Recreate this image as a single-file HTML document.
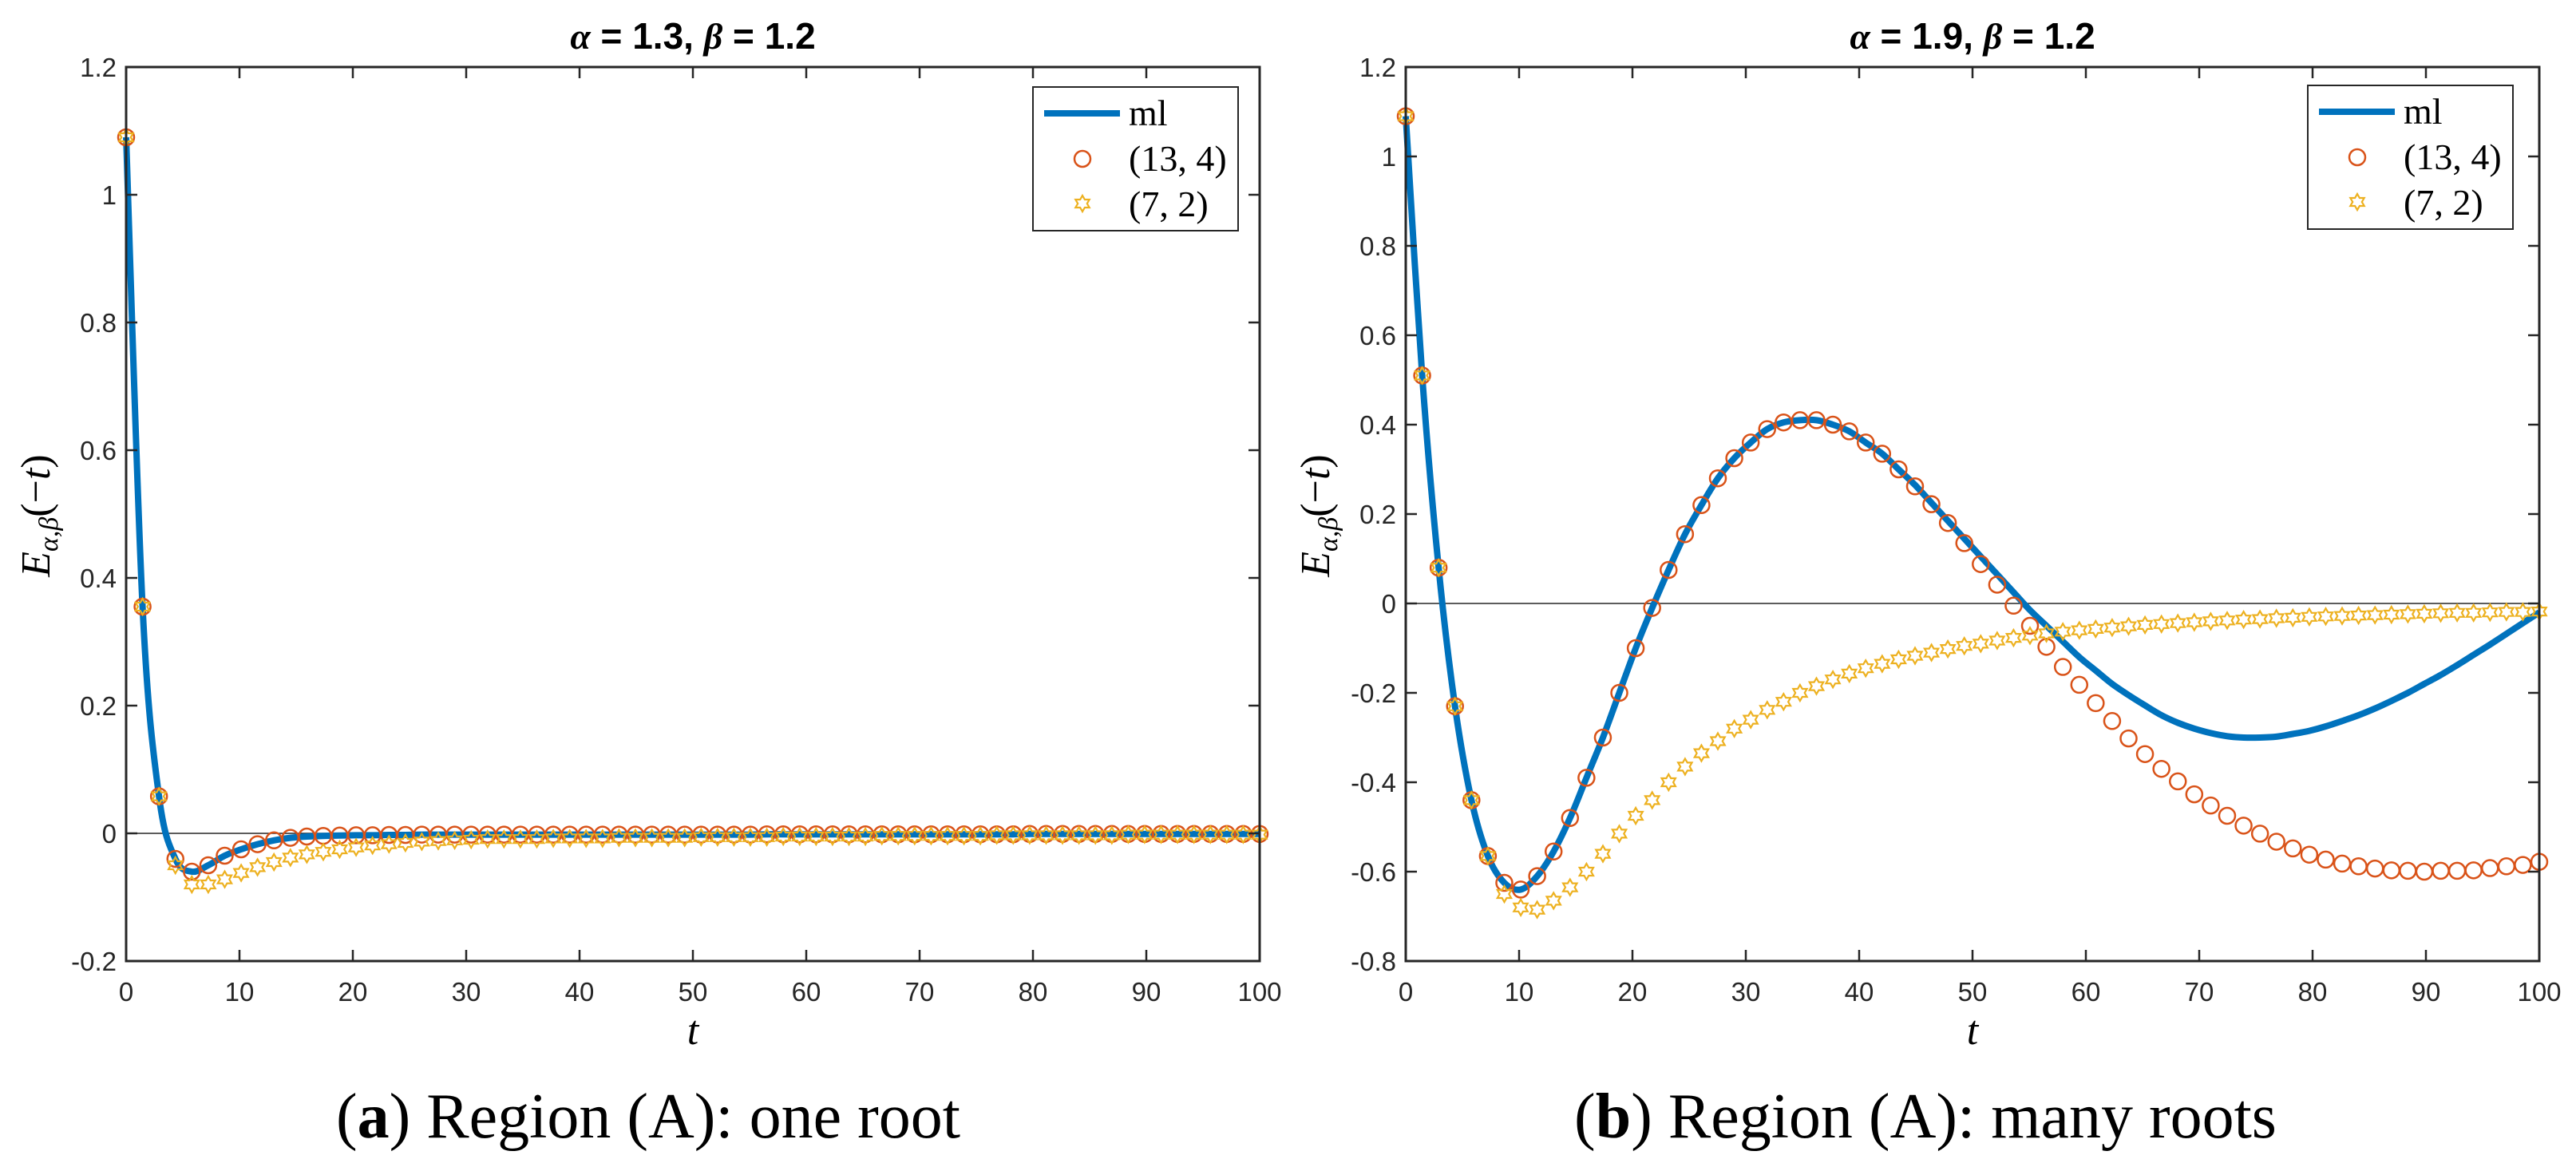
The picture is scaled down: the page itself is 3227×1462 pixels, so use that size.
<!DOCTYPE html>
<html><head><meta charset="utf-8"><style>
html,body{margin:0;padding:0;background:#fff;}
svg{display:block;}
</style></head><body>
<svg id="fig" width="3227" height="1462" viewBox="0 0 3227 1462" xmlns="http://www.w3.org/2000/svg"></svg>
<script>
// ---- data ----
const tTicks = [0,10,20,30,40,50,60,70,80,90,100];
const tickLabelsX = ["0","10","20","30","40","50","60","70","80","90","100"];
const leftYTicks = [-0.2,0,0.2,0.4,0.6,0.8,1,1.2];
const leftYLabels = ["-0.2","0","0.2","0.4","0.6","0.8","1","1.2"];
const rightYTicks = [-0.8,-0.6,-0.4,-0.2,0,0.2,0.4,0.6,0.8,1,1.2];
const rightYLabels = ["-0.8","-0.6","-0.4","-0.2","0","0.2","0.4","0.6","0.8","1","1.2"];
const sampleCount = 70;

const leftMl = [1.09,0.355,0.058,-0.040,-0.060,-0.050,-0.035,-0.025,-0.017,-0.011,-0.007,-0.005,-0.004,-0.0035,-0.003,-0.003,-0.0025,-0.0025,-0.002,
-0.002,-0.002,-0.002,-0.002,-0.002,-0.002,-0.002,-0.002,-0.002,-0.002,-0.002,-0.002,-0.002,-0.002,-0.002,-0.002,-0.002,-0.002,-0.002,-0.002,
-0.0015,-0.0015,-0.0015,-0.0015,-0.0015,-0.0015,-0.0015,-0.0015,-0.0015,-0.0015,-0.0015,-0.0015,-0.0015,-0.0015,-0.0015,-0.0015,
-0.001,-0.001,-0.001,-0.001,-0.001,-0.001,-0.001,-0.001,-0.001,-0.001,-0.001,-0.001,-0.001,-0.001,-0.001];
const leftCircles = leftMl.slice();
const leftStars = [1.09,0.355,0.058,-0.050,-0.080,-0.080,-0.072,-0.062,-0.053,-0.045,-0.038,-0.033,-0.029,-0.025,-0.022,-0.019,-0.017,-0.015,-0.013,-0.012,-0.011,-0.010,
-0.009,-0.009,-0.009,-0.009,-0.008,-0.008,-0.008,-0.008,-0.007,-0.007,-0.007,-0.007,-0.007,-0.006,-0.006,-0.006,-0.006,-0.006,
-0.005,-0.005,-0.005,-0.005,-0.005,-0.005,-0.004,-0.004,-0.004,-0.004,-0.004,-0.004,-0.004,
-0.003,-0.003,-0.003,-0.003,-0.003,-0.003,-0.003,-0.003,-0.002,-0.002,-0.002,-0.002,-0.002,-0.002,-0.002,-0.002,-0.002];

const rightMl = [1.09,0.51,0.08,-0.23,-0.44,-0.565,-0.625,-0.64,-0.61,-0.555,-0.48,-0.39,-0.30,-0.20,-0.10,-0.01,0.075,0.155,0.22,0.28,
0.325,0.36,0.39,0.405,0.41,0.41,0.40,0.385,0.36,0.335,0.30,0.265,0.225,0.185,0.145,0.105,0.065,0.025,-0.015,-0.05,
-0.085,-0.12,-0.15,-0.18,-0.205,-0.228,-0.25,-0.267,-0.28,-0.29,-0.297,-0.30,-0.30,-0.298,-0.292,-0.285,-0.275,-0.263,-0.25,-0.235,
-0.218,-0.20,-0.18,-0.16,-0.138,-0.115,-0.092,-0.068,-0.044,-0.02];
const rightCircles = [1.09,0.51,0.08,-0.23,-0.44,-0.565,-0.625,-0.64,-0.61,-0.555,-0.48,-0.39,-0.30,-0.20,-0.10,-0.01,0.075,0.155,0.22,0.28,
0.325,0.36,0.39,0.405,0.41,0.41,0.40,0.385,0.36,0.335,0.30,0.262,0.222,0.18,0.135,0.088,0.042,-0.005,-0.05,-0.097,
-0.142,-0.182,-0.223,-0.263,-0.302,-0.337,-0.37,-0.398,-0.427,-0.452,-0.475,-0.497,-0.515,-0.533,-0.548,-0.562,-0.573,-0.582,-0.588,-0.593,
-0.597,-0.598,-0.6,-0.598,-0.598,-0.597,-0.592,-0.588,-0.585,-0.578];
const rightStars = [1.09,0.51,0.08,-0.23,-0.44,-0.565,
-0.65,-0.68,-0.685,-0.665,-0.635,-0.60,-0.56,-0.515,-0.475,-0.44,-0.40,-0.365,-0.335,-0.308,-0.28,-0.26,-0.238,-0.22,-0.2,-0.185,-0.17,-0.157,-0.145,-0.135,-0.125,-0.117,-0.11,-0.102,-0.095,-0.09,-0.083,-0.077,-0.072,-0.067,-0.063,
-0.06,-0.057,-0.054,-0.051,-0.048,-0.046,-0.044,-0.042,-0.04,-0.038,-0.036,-0.035,-0.033,-0.032,-0.03,-0.029,-0.028,-0.027,-0.026,-0.025,-0.024,-0.023,-0.022,-0.021,-0.021,-0.02,-0.019,-0.019,-0.018];

// ---- drawing ----
const NS = "http://www.w3.org/2000/svg";
const svg = document.getElementById('fig');
function mk(tag, attrs, parent){
  const e = document.createElementNS(NS, tag);
  for (const k in attrs) e.setAttribute(k, attrs[k]);
  (parent||svg).appendChild(e);
  return e;
}
const BLUE="#0072BD", ORANGE="#D95319", YELLOW="#EDB120", AX="#262626";

function starPath(cx, cy, r){
  let d="";
  for(let i=0;i<12;i++){
    const a = -Math.PI/2 + i*Math.PI/6;
    const rr = (i%2===0)? r : r*0.58;
    d += (i===0?"M":"L") + (cx+rr*Math.cos(a)).toFixed(1)+","+(cy+rr*Math.sin(a)).toFixed(1);
  }
  return d+"Z";
}
function smoothPath(pts){
  let d = "M"+pts[0][0].toFixed(1)+","+pts[0][1].toFixed(1);
  for(let i=0;i<pts.length-1;i++){
    const p0=pts[Math.max(0,i-1)], p1=pts[i], p2=pts[i+1], p3=pts[Math.min(pts.length-1,i+2)];
    const c1x=p1[0]+(p2[0]-p0[0])/6, c1y=p1[1]+(p2[1]-p0[1])/6;
    const c2x=p2[0]-(p3[0]-p1[0])/6, c2y=p2[1]-(p3[1]-p1[1])/6;
    d+=" C"+c1x.toFixed(1)+","+c1y.toFixed(1)+" "+c2x.toFixed(1)+","+c2y.toFixed(1)+" "+p2[0].toFixed(1)+","+p2[1].toFixed(1);
  }
  return d;
}

function drawPlot(cfg){
  const g = mk('g', {});
  
  
  const L=cfg.left, R=cfg.left+1420, T=84, B=1204;
  const xs = v => L + (v-0)/(100-0)*(R-L);
  const ys = v => B - (v-cfg.ymin)/(cfg.ymax-cfg.ymin)*(B-T);
  const tOf = i => i*100/(sampleCount-1);

  const zl = mk('line',{x1:L,x2:R,y1:ys(0),y2:ys(0),stroke:AX,'stroke-width':1.5},g);
  
  

  const pts = cfg.ml.map((v,i)=>[xs(tOf(i)), ys(v)]);
  const ln = mk('path',{d:smoothPath(pts),fill:'none',stroke:BLUE,'stroke-width':8,'stroke-linejoin':'round'},g);
  
  

  cfg.circles.forEach((v,i)=>{
    const c = mk('circle',{cx:xs(tOf(i)),cy:ys(v),r:10,fill:'none',stroke:ORANGE,'stroke-width':2.5},g);
    
    
  });
  cfg.stars.forEach((v,i)=>{
    const s = mk('path',{d:starPath(xs(tOf(i)),ys(v),10),fill:'none',stroke:YELLOW,'stroke-width':2.2},g);
    
    
  });

  const box = mk('rect',{x:L,y:T,width:R-L,height:B-T,fill:'none',stroke:AX,'stroke-width':3},g);
  
  

  tTicks.forEach((v,i)=>{
    const x=xs(v);
    mk('line',{x1:x,x2:x,y1:B,y2:B-14,stroke:AX,'stroke-width':2.5},g);
    mk('line',{x1:x,x2:x,y1:T,y2:T+14,stroke:AX,'stroke-width':2.5},g);
    const tx = mk('text',{x:x,y:B+50,'text-anchor':'middle','font-family':'Liberation Sans, sans-serif','font-size':33,fill:AX},g);
    tx.textContent = tickLabelsX[i];
    
    
  });
  cfg.yticks.forEach((v,i)=>{
    const y=ys(v);
    mk('line',{x1:L,x2:L+14,y1:y,y2:y,stroke:AX,'stroke-width':2.5},g);
    mk('line',{x1:R,x2:R-14,y1:y,y2:y,stroke:AX,'stroke-width':2.5},g);
    const ty = mk('text',{x:L-12,y:y+12,'text-anchor':'end','font-family':'Liberation Sans, sans-serif','font-size':33,fill:AX},g);
    ty.textContent = cfg.ylabels[i];
    
    
  });

  const tt = mk('text',{x:(L+R)/2,y:61,'text-anchor':'middle','font-family':'Liberation Sans, sans-serif','font-size':46,'font-weight':'bold',fill:'#000'},g);
  tt.innerHTML = '<tspan font-family="Liberation Serif, serif" font-style="italic">α</tspan> = '+cfg.alpha+', <tspan font-family="Liberation Serif, serif" font-style="italic">β</tspan> = 1.2';
  
  

  const xl = mk('text',{x:(L+R)/2,y:1308,'text-anchor':'middle','font-family':'Liberation Serif, serif','font-size':52,'font-style':'italic',fill:'#000'},g);
  xl.textContent = 't';
  
  

  const yl = mk('text',{transform:'translate('+(L-96)+',646) rotate(-90)','text-anchor':'middle','font-family':'Liberation Serif, serif','font-size':52,fill:'#000'},g);
  yl.innerHTML = '<tspan font-style="italic">E</tspan><tspan font-style="italic" font-size="34" dy="10">α,β</tspan><tspan dy="-10">(−</tspan><tspan font-style="italic">t</tspan><tspan>)</tspan>';
  
  

  const lx = cfg.legX, ly = cfg.legY;
  const lg = mk('g',{},g);
  
  
  mk('rect',{x:lx,y:ly,width:257,height:180,fill:'#fff',stroke:AX,'stroke-width':2},lg);
  mk('line',{x1:lx+14,x2:lx+109,y1:ly+33,y2:ly+33,stroke:BLUE,'stroke-width':8},lg);
  mk('circle',{cx:lx+62,cy:ly+90,r:10,fill:'none',stroke:ORANGE,'stroke-width':2.5},lg);
  mk('path',{d:starPath(lx+62,ly+146,10),fill:'none',stroke:YELLOW,'stroke-width':2.2},lg);
  const labels = ['ml','(13, 4)','(7, 2)'];
  const names = ['legend-entry-ml','legend-entry-13-4','legend-entry-7-2'];
  labels.forEach((s,i)=>{
    const t = mk('text',{x:lx+120,y:ly+48+i*57,'font-family':'Liberation Serif, serif','font-size':46,fill:'#000'},lg);
    t.textContent = s;
    
    
  });

  const cap = mk('text',{x:cfg.capX,y:1425,'text-anchor':'middle','font-family':'Liberation Serif, serif','font-size':80,fill:'#000'},g);
  cap.innerHTML = '(<tspan font-weight="bold">'+cfg.letter+'</tspan>) '+cfg.caption;
  
  
}

drawPlot({name:'plot-a',left:158,ymin:-0.2,ymax:1.2,yticks:leftYTicks,ylabels:leftYLabels,
  ml:leftMl,circles:leftCircles,stars:leftStars,alpha:'1.3',legX:1294,legY:109,capX:812,letter:'a',caption:'Region (A): one root'});
drawPlot({name:'plot-b',left:1761,ymin:-0.8,ymax:1.2,yticks:rightYTicks,ylabels:rightYLabels,
  ml:rightMl,circles:rightCircles,stars:rightStars,alpha:'1.9',legX:2891,legY:107,capX:2412,letter:'b',caption:'Region (A): many roots'});
</script>
</body></html>
